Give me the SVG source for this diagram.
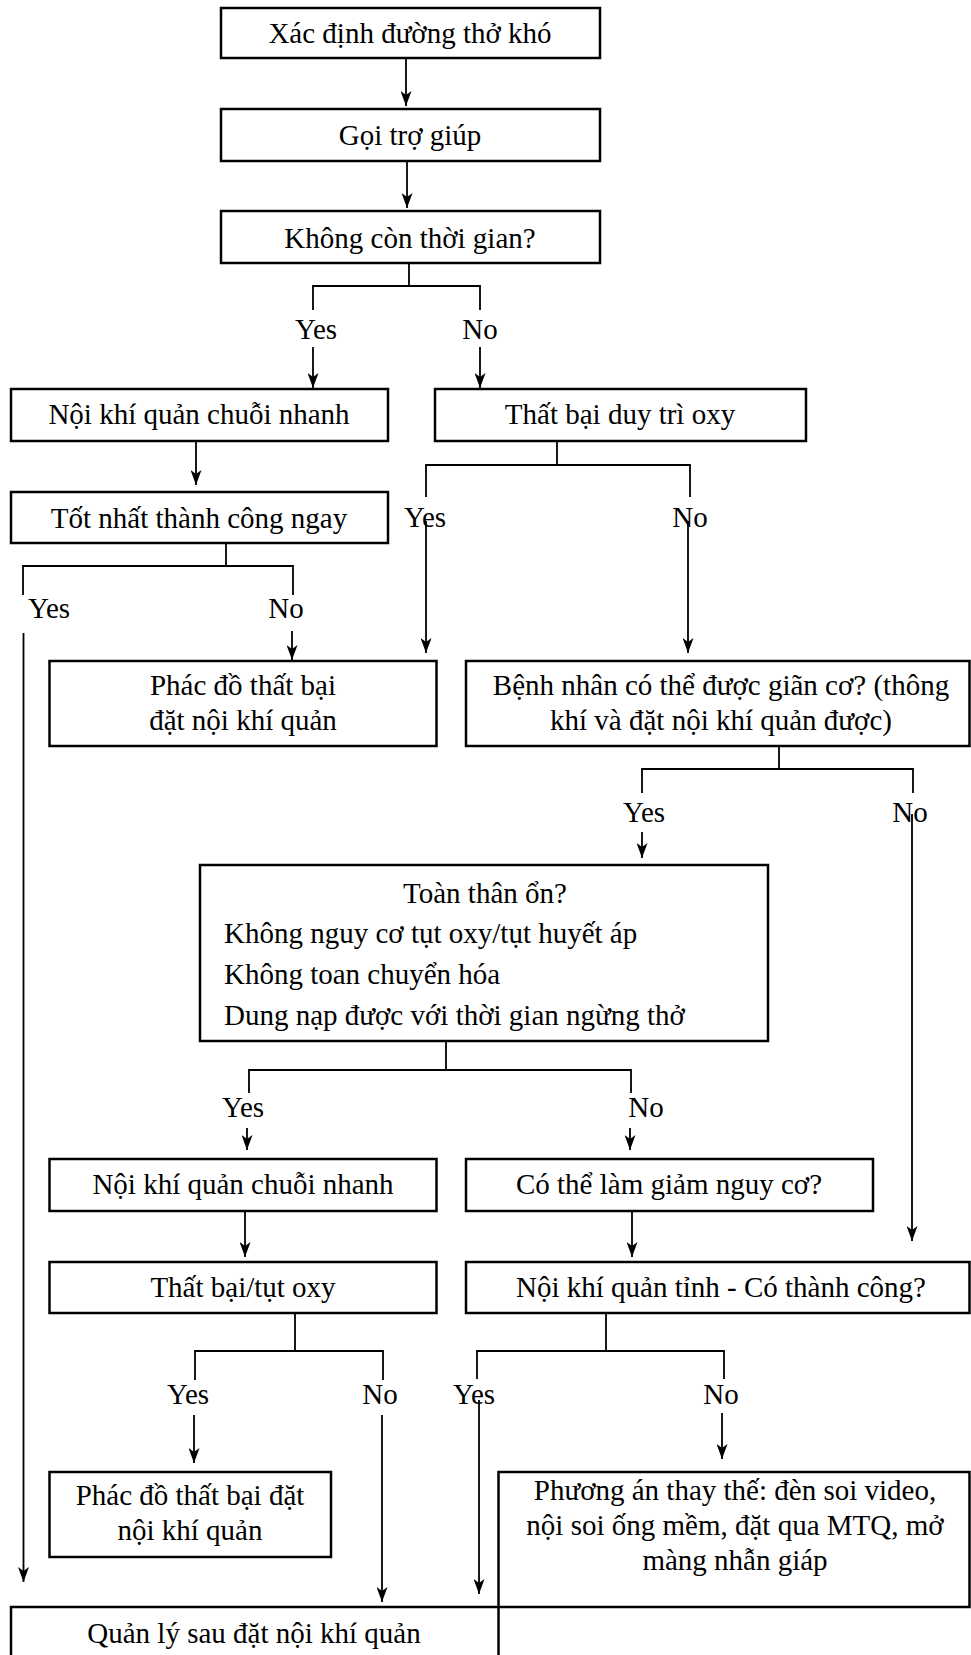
<svg xmlns="http://www.w3.org/2000/svg" width="971" height="1655" viewBox="0 0 971 1655">
<style>
.box{fill:#fff;stroke:#000;stroke-width:2.5}
.ln{fill:none;stroke:#000;stroke-width:1.8}
.ar{fill:none;stroke:#000;stroke-width:1.8;marker-end:url(#ah)}
text{font-family:"Liberation Serif","Times New Roman",serif;font-size:29px;fill:#000}
.c{text-anchor:middle}
</style>
<defs>
<marker id="ah" viewBox="0 0 15 11" refX="15" refY="5.5" markerWidth="15" markerHeight="11" orient="auto" markerUnits="userSpaceOnUse">
<path d="M0,0 L15,5.5 L0,11 L4,5.5 z" fill="#000"/>
</marker>
</defs>
<rect width="971" height="1655" fill="#fff"/>

<g id="connectors">
<path class="ar" d="M406,58 V106"/>
<path class="ar" d="M407,161 V208"/>
<path class="ln" d="M409,263 V286 M313,310 V286 H480 V310"/>
<path class="ar" d="M313,347 V388"/>
<path class="ar" d="M480,347 V388"/>
<path class="ar" d="M196,441 V485"/>
<path class="ln" d="M557,441 V465 M426,497 V465 H690 V497"/>
<path class="ar" d="M426,521 V653"/>
<path class="ar" d="M688,521 V653"/>
<path class="ln" d="M226,543 V566 M23,595 V566 H293 V595"/>
<path class="ar" d="M23.5,633 V1582"/>
<path class="ar" d="M292,631 V660"/>
<path class="ln" d="M779,746 V769 M642,793 V769 H913 V793"/>
<path class="ar" d="M642,832 V858"/>
<path class="ar" d="M912,814 V1241"/>
<path class="ln" d="M446,1041 V1070 M249,1093 V1070 H631 V1093"/>
<path class="ar" d="M247,1128 V1150"/>
<path class="ar" d="M630,1128 V1150"/>
<path class="ar" d="M245,1211 V1257"/>
<path class="ar" d="M632,1211 V1257"/>
<path class="ln" d="M295,1313 V1351 M195,1380 V1351 H383 V1380"/>
<path class="ln" d="M606,1313 V1351 M477,1379 V1351 H724 V1379"/>
<path class="ar" d="M194,1415 V1463"/>
<path class="ar" d="M382,1415 V1602"/>
<path class="ar" d="M479,1400 V1594"/>
<path class="ar" d="M722,1413 V1459"/>
</g>

<g id="labels">
<text class="c" x="316" y="339">Yes</text>
<text class="c" x="480" y="339">No</text>
<text class="c" x="425" y="527">Yes</text>
<text class="c" x="690" y="527">No</text>
<text class="c" x="49" y="618">Yes</text>
<text class="c" x="286" y="618">No</text>
<text class="c" x="644" y="822">Yes</text>
<text class="c" x="910" y="822">No</text>
<text class="c" x="243" y="1117">Yes</text>
<text class="c" x="646" y="1117">No</text>
<text class="c" x="188" y="1404">Yes</text>
<text class="c" x="380" y="1404">No</text>
<text class="c" x="474" y="1404">Yes</text>
<text class="c" x="721" y="1404">No</text>
</g>

<g id="n1"><rect class="box" x="221" y="8" width="379" height="50"/><text class="c" x="410" y="43">Xác định đường thở khó</text></g>
<g id="n2"><rect class="box" x="221" y="109" width="379" height="52"/><text class="c" x="410" y="145">Gọi trợ giúp</text></g>
<g id="n3"><rect class="box" x="221" y="211" width="379" height="52"/><text class="c" x="410" y="248">Không còn thời gian?</text></g>
<g id="n4"><rect class="box" x="11" y="389" width="377" height="52"/><text class="c" x="199" y="424">Nội khí quản chuỗi nhanh</text></g>
<g id="n5"><rect class="box" x="435" y="389" width="371" height="52"/><text class="c" x="620" y="424">Thất bại duy trì oxy</text></g>
<g id="n6"><rect class="box" x="11" y="492" width="377" height="51"/><text class="c" x="199" y="528">Tốt nhất thành công ngay</text></g>
<g id="n7"><rect class="box" x="49.5" y="661" width="387" height="85"/><text class="c" x="243" y="695">Phác đồ thất bại</text><text class="c" x="243" y="730">đặt nội khí quản</text></g>
<g id="n8"><rect class="box" x="466" y="661" width="503.5" height="85"/><text class="c" x="721" y="695">Bệnh nhân có thể được giãn cơ? (thông</text><text class="c" x="721" y="730">khí và đặt nội khí quản được)</text></g>
<g id="n9"><rect class="box" x="200" y="865" width="568" height="176"/><text class="c" x="485" y="903">Toàn thân ổn?</text><text x="224" y="943">Không nguy cơ tụt oxy/tụt huyết áp</text><text x="224" y="984">Không toan chuyển hóa</text><text x="224" y="1025">Dung nạp được với thời gian ngừng thở</text></g>
<g id="n10"><rect class="box" x="49.5" y="1159" width="387" height="52"/><text class="c" x="243" y="1194">Nội khí quản chuỗi nhanh</text></g>
<g id="n11"><rect class="box" x="466" y="1159" width="407" height="52"/><text class="c" x="669" y="1194">Có thể làm giảm nguy cơ?</text></g>
<g id="n12"><rect class="box" x="49.5" y="1262" width="387" height="51"/><text class="c" x="243" y="1297">Thất bại/tụt oxy</text></g>
<g id="n13"><rect class="box" x="466" y="1262" width="503.5" height="51"/><text class="c" x="721" y="1297">Nội khí quản tỉnh - Có thành công?</text></g>
<g id="n14"><rect class="box" x="49.5" y="1472" width="281.5" height="85"/><text class="c" x="190" y="1505">Phác đồ thất bại đặt</text><text class="c" x="190" y="1540">nội khí quản</text></g>
<g id="n15"><rect class="box" x="498.5" y="1472" width="471" height="135"/><text class="c" x="735" y="1500">Phương án thay thế: đèn soi video,</text><text class="c" x="735" y="1535">nội soi ống mềm, đặt qua MTQ, mở</text><text class="c" x="735" y="1570">màng nhẫn giáp</text></g>
<g id="n16"><rect class="box" x="11" y="1607" width="487.5" height="60"/><text class="c" x="254" y="1643">Quản lý sau đặt nội khí quản</text></g>
</svg>
